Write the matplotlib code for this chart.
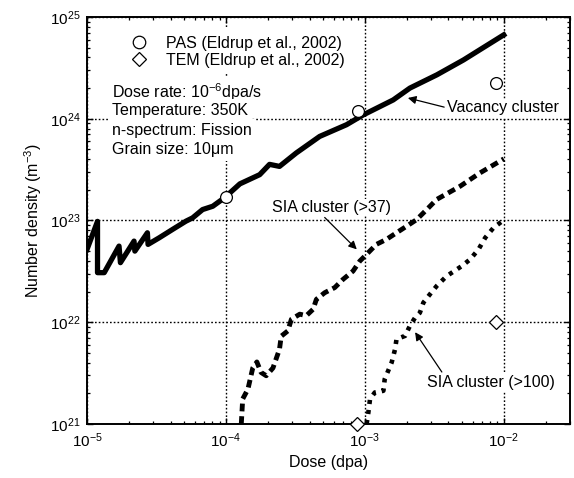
import matplotlib
matplotlib.use("Agg")
import matplotlib.pyplot as plt
from matplotlib.lines import Line2D

plt.rcParams["font.family"] = ["Liberation Sans", "DejaVu Sans"]
plt.rcParams["mathtext.fontset"] = "custom"
plt.rcParams["mathtext.rm"] = "Liberation Sans"
plt.rcParams["mathtext.it"] = "Liberation Sans:italic"

# simulated cluster densities vs dose
vac_dose = [1.0e-5, 1.19e-5, 1.19e-5, 1.33e-5, 1.70e-5, 1.74e-5, 2.18e-5, 2.21e-5,
            2.72e-5, 2.75e-5, 3.31e-5, 4.13e-5, 5.15e-5, 5.75e-5, 6.79e-5, 8.04e-5,
            9.75e-5, 1.26e-4, 1.75e-4, 2.06e-4, 2.43e-4, 3.21e-4, 4.73e-4, 7.38e-4,
            9.73e-4, 1.60e-3, 2.11e-3, 3.30e-3, 5.13e-3, 1.0e-2]
vac_dens = [5.2e22, 9.8e22, 3.07e22, 3.07e22, 5.6e22, 3.85e22, 6.27e22, 5.0e22,
            7.57e22, 5.82e22, 6.76e22, 8.17e22, 9.84e22, 1.06e23, 1.28e23, 1.38e23,
            1.67e23, 2.29e23, 2.82e23, 3.56e23, 3.40e23, 4.61e23, 6.70e23, 8.73e23,
            1.09e24, 1.53e24, 2.0e24, 2.70e24, 3.78e24, 6.67e24]

sia37_dose = [1.29e-4, 1.32e-4, 1.44e-4, 1.56e-4, 1.67e-4, 1.79e-4, 1.95e-4, 2.18e-4,
              2.43e-4, 2.50e-4, 2.79e-4, 2.96e-4, 3.40e-4, 3.79e-4, 4.24e-4, 4.48e-4,
              5.14e-4, 6.07e-4, 6.97e-4, 8.22e-4, 9.20e-4, 1.03e-3, 1.21e-3, 1.43e-3,
              1.69e-3, 2.0e-3, 2.36e-3, 2.79e-3, 3.29e-3, 4.85e-3, 6.76e-3, 1.0e-2]
sia37_dens = [1.0e21, 1.76e21, 2.2e21, 3.55e21, 4.07e21, 3.21e21, 2.98e21, 3.55e21,
              5.43e21, 7.29e21, 8.22e21, 1.07e22, 1.20e22, 1.16e22, 1.34e22, 1.68e22,
              1.95e22, 2.19e22, 2.64e22, 3.18e22, 3.99e22, 4.65e22, 5.82e22, 6.52e22,
              7.57e22, 8.79e22, 1.02e23, 1.28e23, 1.61e23, 2.17e23, 2.94e23, 4.03e23]

sia100_dose = [1.03e-3, 1.06e-3, 1.09e-3, 1.18e-3, 1.36e-3, 1.39e-3, 1.56e-3, 1.65e-3,
               1.69e-3, 1.95e-3, 2.11e-3, 2.30e-3, 2.49e-3, 2.64e-3, 2.94e-3, 3.29e-3,
               3.88e-3, 4.98e-3, 5.73e-3, 6.58e-3, 7.35e-3, 8.43e-3, 1.0e-2]
sia100_dens = [1.0e21, 1.30e21, 1.76e21, 2.04e21, 2.12e21, 2.76e21, 4.03e21, 5.43e21,
               6.81e21, 7.35e21, 9.2e21, 1.11e22, 1.24e22, 1.56e22, 1.88e22, 2.27e22,
               2.84e22, 3.56e22, 4.15e22, 5.2e22, 6.76e22, 8.47e22, 1.01e23]

# experimental points (Eldrup et al., 2002)
pas_dose = [1.0e-4, 8.9e-4, 8.8e-3]
pas_dens = [1.72e23, 1.2e24, 2.25e24]
tem_dose = [8.8e-4, 8.8e-3]
tem_dens = [1.0e21, 1.0e22]

conditions = ["Dose rate: 10$^{-6}$dpa/s", "Temperature: 350K",
              "n-spectrum: Fission", "Grain size: 10\u03bcm"]

fig = plt.figure(figsize=(5.74, 4.78), dpi=100)
ax = fig.add_axes([0.1516, 0.113, 0.8415, 0.8515])
ax.set_xscale("log")
ax.set_yscale("log")
ax.set_xlim(1e-5, 3e-2)
ax.set_ylim(1e21, 1e25)

ax.grid(True, which="major", ls=(0, (1.2, 1.5)), color="black", lw=1.0)
ax.set_axisbelow(True)

ax.plot(vac_dose, vac_dens, color="black", lw=3.8, zorder=3)
ax.plot(sia37_dose, sia37_dens, color="black", lw=3.5, ls=(0, (1.6, 1.0)), zorder=3)
ax.plot(sia100_dose, sia100_dens, color="black", lw=3.3, ls=(0, (0.9, 1.3)), zorder=3)

ax.plot(pas_dose, pas_dens, ls="none", marker="o", ms=8.5, mfc="white",
        mec="black", mew=0.9, zorder=5, clip_on=False)
ax.plot(tem_dose, tem_dens, ls="none", marker="D", ms=7.5, mfc="white",
        mec="black", mew=0.9, zorder=5, clip_on=False)

handles = [Line2D([], [], ls="none", marker="o", ms=9, mfc="white", mec="black", mew=0.9),
           Line2D([], [], ls="none", marker="D", ms=7.5, mfc="white", mec="black", mew=0.9)]
leg = ax.legend(handles, ["PAS (Eldrup et al., 2002)", "TEM (Eldrup et al., 2002)"],
                loc="upper left", bbox_to_anchor=(0.055, 0.978), fontsize=11.5,
                frameon=True, fancybox=False, framealpha=1, edgecolor="none",
                handletextpad=0.7, labelspacing=0.15, borderaxespad=0.2)
leg.set_zorder(6)

# run conditions, one line at a time so the superscript keeps the spacing even
for i, line in enumerate(conditions):
    ax.text(0.052, 0.8206 - i * 0.0475, line, transform=ax.transAxes, ha="left",
            va="center_baseline", fontsize=11.5, zorder=6,
            bbox=dict(fc="white", ec="none", pad=3))

arrow = dict(arrowstyle="-|>", color="black", lw=0.9, mutation_scale=12,
             shrinkA=1, shrinkB=0)
ax.annotate("Vacancy cluster", xy=(2.04e-3, 1.6e24), xytext=(3.9e-3, 1.28e24),
            ha="left", va="center", fontsize=11.5, zorder=6,
            bbox=dict(fc="white", ec="none", pad=1),
            arrowprops=dict(arrow, relpos=(0, 0.5)))
ax.annotate("SIA cluster (>37)", xy=(8.75e-4, 5.2e22), xytext=(5.78e-4, 1.34e23),
            ha="center", va="center", fontsize=11.5, zorder=6,
            bbox=dict(fc="white", ec="none", pad=1),
            arrowprops=dict(arrow, relpos=(0.42, 0)))
ax.annotate("SIA cluster (>100)", xy=(2.3e-3, 7.98e21), xytext=(2.8e-3, 2.58e21),
            ha="left", va="center", fontsize=11.5, zorder=6,
            bbox=dict(fc="white", ec="none", pad=1),
            arrowprops=dict(arrow, relpos=(0.13, 1)))

ax.set_xlabel("Dose (dpa)", fontsize=11.5, labelpad=4)
ax.set_ylabel("Number density (m$^{-3}$)", fontsize=11.5, labelpad=4)

ax.tick_params(which="both", direction="in", top=True, right=True, labelsize=11)
ax.tick_params(which="major", length=4.5, width=1.0, pad=5)
ax.tick_params(which="minor", length=2.3, width=0.9)
for s in ax.spines.values():
    s.set_linewidth(1.4)
    s.set_zorder(4)

fig.savefig("out.png", dpi=100)
